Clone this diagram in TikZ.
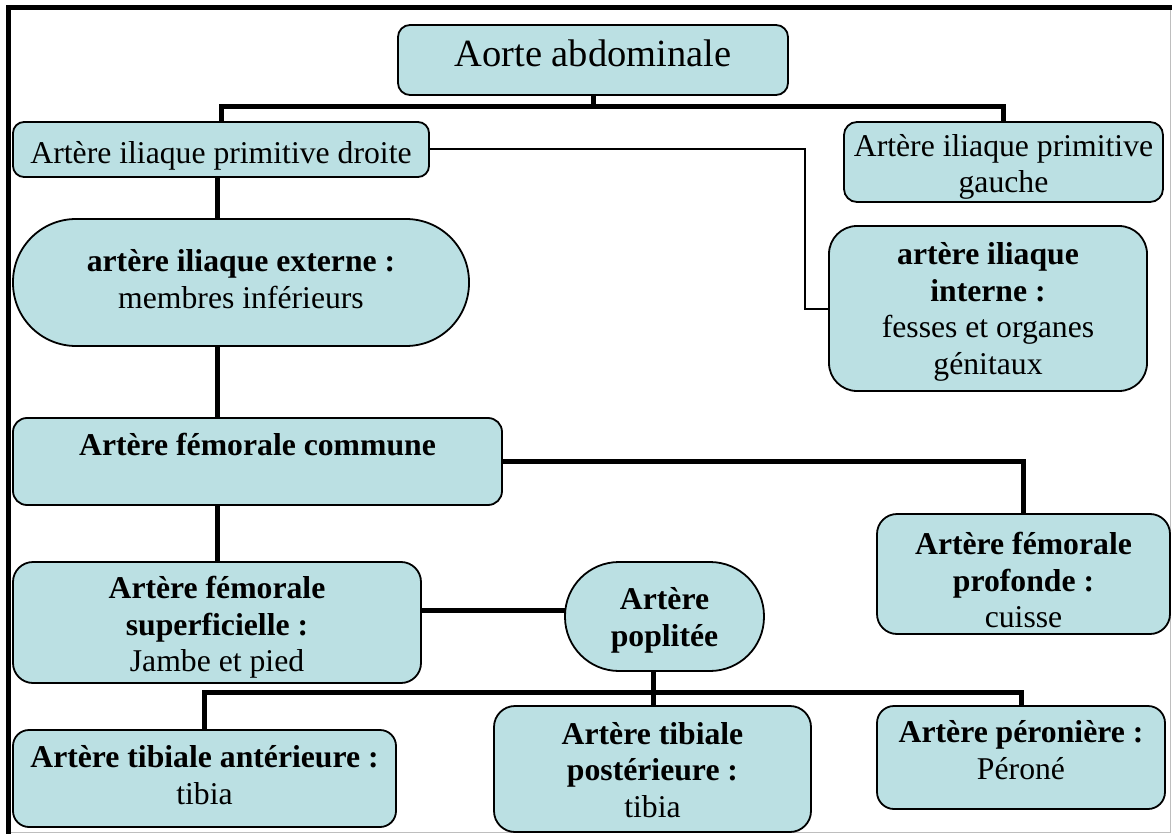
\documentclass[tikz,border=0pt]{standalone}
\usepackage{fontspec}
\setmainfont{Liberation Serif}
\definecolor{boxfill}{RGB}{187,224,227}
\definecolor{framegrey}{RGB}{190,190,190}
\begin{document}
\begin{tikzpicture}[x=1pt,y=-1pt,
  bx/.style={draw=black, line width=1.8pt, fill=boxfill, inner sep=0pt, outer sep=0pt, anchor=north west},
  txt/.style={align=center, inner sep=0pt, font=\fontsize{31.7}{36.5}\selectfont},
  conn/.style={draw=black, line width=5pt},
  thinconn/.style={draw=black, line width=2pt}]
\useasboundingbox (0,0) rectangle (1172,834);
% frame
\draw[framegrey, line width=1.5pt] (1170.5,5) -- (1170.5,832.5) -- (8,832.5);
\draw[black, line width=5pt] (8.5,834) -- (8.5,7.5) -- (1172,7.5);

% boxes
\node[bx, rounded corners=12pt, minimum width=390pt, minimum height=70pt] (b1) at (398,25) {};
\node[bx, rounded corners=11pt, minimum width=416pt, minimum height=55pt] (b2) at (13,122) {};
\node[bx, rounded corners=13pt, minimum width=319pt, minimum height=80pt] (b3) at (844,122) {};
\node[bx, rounded corners=63pt, minimum width=456pt, minimum height=127pt] (b4) at (13,219) {};
\node[bx, rounded corners=28pt, minimum width=318pt, minimum height=165pt] (b5) at (829,226) {};
\node[bx, rounded corners=14pt, minimum width=489pt, minimum height=87pt] (b6) at (13,418) {};
\node[bx, rounded corners=20pt, minimum width=293pt, minimum height=120pt] (b7) at (877,514) {};
\node[bx, rounded corners=20pt, minimum width=408pt, minimum height=121pt] (b8) at (13,562) {};
\node[bx, rounded corners=54pt, minimum width=199pt, minimum height=109pt] (b9) at (565,562) {};
\node[bx, rounded corners=16pt, minimum width=383pt, minimum height=97pt] (b10) at (13,730) {};
\node[bx, rounded corners=21pt, minimum width=317pt, minimum height=126pt] (b11) at (494,706) {};
\node[bx, rounded corners=17pt, minimum width=288pt, minimum height=103pt] (b12) at (877,706) {};

% texts
\node[txt, font=\fontsize{38.5}{44}\selectfont] (t1) at ([yshift=6.5pt]b1.center) {Aorte abdominale};
\node[txt] (t2) at ([yshift=-6pt]b2.center) {Artère iliaque primitive droite};
\node[txt] (t3) at ([yshift=-5pt]b3.center) {Artère iliaque primitive\\gauche};
\node[txt] (t4) at ([yshift=3.5pt]b4.center) {\textbf{artère iliaque externe :}\\membres inférieurs};
\node[txt] (t5) at ([yshift=-3.5pt]b5.center) {\textbf{artère iliaque}\\\textbf{interne :}\\fesses et organes\\génitaux};
\node[txt] (t6) at ([yshift=16.5pt]b6.center) {\textbf{Artère fémorale commune}};
\node[txt] (t7) at ([yshift=-6pt]b7.center) {\textbf{Artère fémorale}\\\textbf{profonde :}\\cuisse};
\node[txt] (t8) at ([yshift=-5pt]b8.center) {\textbf{Artère fémorale}\\\textbf{superficielle :}\\Jambe et pied};
\node[txt] (t9) at ([yshift=-4pt]b9.center) {\textbf{Artère}\\\textbf{poplitée}};
\node[txt] (t10) at ([yshift=3.5pt]b10.center) {\textbf{Artère tibiale antérieure :}\\tibia};
\node[txt] (t11) at ([yshift=-1pt]b11.center) {\textbf{Artère tibiale}\\\textbf{postérieure :}\\tibia};
\node[txt] (t12) at ([yshift=7.5pt]b12.center) {\textbf{Artère péronière :}\\Péroné};

% junction coordinates
\coordinate (j1) at (593,107);
\coordinate (spine) at (217,0);
\coordinate (j2) at (805,0);
\coordinate (j3) at (0,610);
\coordinate (j4) at (653,692.5);

% connectors
\draw[conn] (b1.south) -- (j1);
\draw[conn] (b2.north) |- (j1) -| (b3.north);
\draw[thinconn] (b2.east) -- (b2.east -| j2) -- (b5.west -| j2) -- (b5.west);
\draw[conn] (b2.south -| spine) -- (b4.north -| spine);
\draw[conn] (b4.south -| spine) -- (b6.north -| spine);
\draw[conn] (b6.south -| spine) -- (b8.north -| spine);
\draw[conn] (b6.east) -| (b7.north);
\draw[conn] (b8.east |- j3) -- (b9.west |- j3);
\draw[conn] (b9.south -| j4) -- (b11.north -| j4);
\draw[conn] (b10.north) |- (j4) -| (b12.north);
\end{tikzpicture}
\end{document}
